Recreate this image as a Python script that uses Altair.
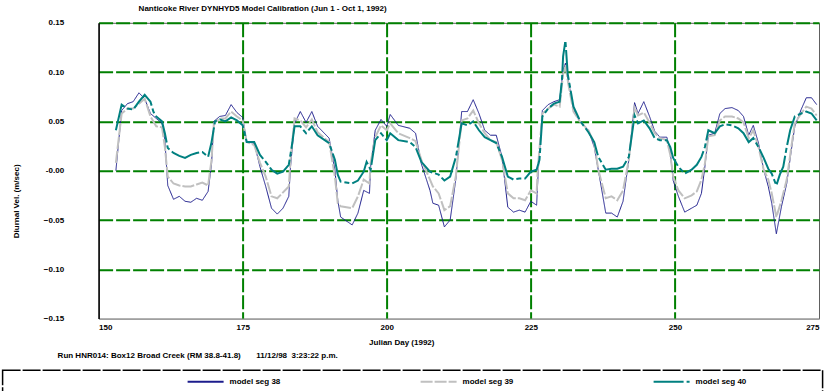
import altair as alt
import pandas as pd

TITLE = "Nanticoke River DYNHYD5 Model Calibration (Jun 1 - Oct 1, 1992)"
FOOTER = "Run HNR014: Box12 Broad Creek (RM 38.8-41.8)\u00a0\u00a0\u00a0\u00a0\u00a0\u00a0\u00a011/12/98\u00a0\u00a03:23:22 p.m."
SERIES = ["model seg 38", "model seg 39", "model seg 40"]
COLORS = ["#1c1c8c", "#c0c0c0", "#008080"]
Y_TICKS = [-0.15, -0.10, -0.05, 0.0, 0.05, 0.10, 0.15]
X_TICKS = [150, 175, 200, 225, 250, 275]

days38 = [153, 154, 155, 156, 157, 158, 159, 160, 161, 161.5, 162, 163, 164, 165, 166, 167, 168, 169, 169.6,
          170, 171, 172, 173, 174, 175, 175.7, 177, 178, 179, 180, 181, 182, 183, 183.3, 184, 185, 186, 187,
          188, 190, 191, 191.5, 192, 194, 195, 196, 197, 197.2, 198, 199, 200, 200.6, 202, 204, 205, 206,
          207.5, 208, 209, 210, 211, 212, 213, 214, 215, 216, 217, 218, 219, 220, 221, 222, 223, 224, 225,
          226, 226.3, 227, 228, 229, 230, 230.6, 231, 231.5, 232.4, 233.5, 235, 236, 236.7, 238, 239, 240,
          241, 242, 243, 243.6, 244.6, 245.6, 246.5, 247.4, 248.6, 249.2, 249.7, 250.6, 251.7, 252.9, 253.8,
          254.6, 255.2, 255.8, 256.9, 257.8, 258.7, 259.9, 261, 261.9, 262.8, 263.6, 264.5, 265.4, 266.2,
          266.8, 267.6, 268.5, 269.4, 270.2, 270.8, 271.9, 272.8, 273.7, 274.6]
vel38 = [0.000, 0.061, 0.068, 0.070, 0.079, 0.073, 0.058, 0.053, 0.048, 0.031, -0.015, -0.029, -0.026, -0.031,
         -0.032, -0.028, -0.030, -0.021, 0.007, 0.050, 0.055, 0.056, 0.067, 0.059, 0.054, 0.029, 0.028, 0.004,
         -0.016, -0.038, -0.044, -0.038, -0.026, 0.004, 0.048, 0.060, 0.049, 0.060, 0.045, 0.033, 0.001, -0.030,
         -0.047, -0.055, -0.043, -0.020, -0.023, 0.004, 0.041, 0.052, 0.045, 0.057, 0.046, 0.043, 0.038, 0.007,
         -0.020, -0.033, -0.035, -0.057, -0.050, -0.008, 0.060, 0.060, 0.072, 0.058, 0.041, 0.036, 0.036, 0.014,
         -0.037, -0.042, -0.040, -0.042, -0.031, -0.035, 0.001, 0.061, 0.067, 0.070, 0.072, 0.102, 0.109, 0.092,
         0.062, 0.050, 0.041, 0.024, 0.001, -0.043, -0.043, -0.047, -0.031, 0.011, 0.069, 0.058, 0.070, 0.055,
         0.040, 0.034, 0.034, 0.019, -0.010, -0.026, -0.042, -0.038, -0.035, -0.023, 0.004, 0.036, 0.038, 0.058,
         0.063, 0.064, 0.061, 0.055, 0.036, 0.046, 0.028, 0.001, -0.016, -0.033, -0.064, -0.036, -0.013, 0.021,
         0.045, 0.062, 0.074, 0.074, 0.067]

days39 = [153, 154, 155, 156, 157, 158, 159, 160, 161, 161.5, 162, 163, 164, 165, 166, 167, 168, 169, 169.6,
          170, 171, 172, 173, 174, 175, 175.7, 177, 178, 179, 180, 181, 183, 183.3, 184, 185, 186, 187, 188,
          190, 191, 191.5, 192, 194, 195, 196, 197, 197.2, 198, 199, 200, 200.6, 202, 204, 205, 206, 207.5,
          208, 209, 210, 211, 212, 213, 214, 215, 216, 217, 218, 219, 220, 221, 222, 223, 224, 225, 226,
          226.2, 227, 228, 229, 230, 230.6, 231, 231.5, 232.4, 233.5, 235, 236, 236.7, 238, 239, 240, 241,
          242, 243, 243.6, 244.6, 245.6, 246.5, 247.4, 248.6, 249.2, 249.7, 250.6, 251.7, 252.9, 253.8,
          254.6, 255.2, 255.8, 256.9, 257.8, 258.7, 259.9, 261, 261.9, 262.8, 263.6, 264.5, 265.4, 266.2,
          266.8, 267.6, 268.5, 269.4, 270.2, 270.8, 271.9, 272.8, 273.7, 274.6]
vel39 = [0.008, 0.058, 0.063, 0.063, 0.068, 0.073, 0.055, 0.045, 0.044, 0.024, -0.006, -0.013, -0.015, -0.016,
         -0.016, -0.014, -0.012, -0.015, 0.011, 0.048, 0.053, 0.053, 0.060, 0.055, 0.051, 0.029, 0.026, 0.008,
         -0.006, -0.026, -0.028, -0.016, 0.011, 0.053, 0.051, 0.044, 0.052, 0.039, 0.029, -0.006, -0.033, -0.036,
         -0.038, -0.026, -0.009, -0.013, 0.008, 0.034, 0.046, 0.041, 0.048, 0.038, 0.033, 0.030, 0.011, -0.009,
         -0.016, -0.023, -0.040, -0.036, -0.005, 0.051, 0.053, 0.061, 0.048, 0.038, 0.031, 0.029, 0.011, -0.023,
         -0.028, -0.028, -0.030, -0.020, -0.023, 0.001, 0.058, 0.063, 0.067, 0.065, 0.098, 0.107, 0.088, 0.060,
         0.050, 0.041, 0.028, 0.001, -0.028, -0.026, -0.030, -0.020, 0.011, 0.064, 0.056, 0.059, 0.049, 0.038,
         0.033, 0.031, 0.016, -0.006, -0.020, -0.028, -0.025, -0.021, -0.009, 0.007, 0.035, 0.036, 0.051, 0.055,
         0.055, 0.053, 0.049, 0.033, 0.041, 0.024, 0.001, -0.009, -0.023, -0.047, -0.030, -0.009, 0.024, 0.048,
         0.058, 0.065, 0.063, 0.056]

days40 = [153, 154, 155, 156, 157, 158, 159, 159.5, 160, 161, 161.5, 162, 163, 164, 165, 166, 167, 168, 169,
          169.6, 170.2, 171, 172, 173, 174, 175, 175.7, 177, 178, 179, 180, 181, 182, 183, 183.5, 184, 185,
          186, 187, 188, 190, 191, 191.5, 192, 194, 195, 196, 196.5, 197.2, 198, 199, 200, 200.6, 202, 204,
          205, 206, 207.5, 209, 210, 211, 212, 213, 214, 215, 216, 217, 218, 219, 220, 221, 222, 223, 224,
          225, 226, 226.5, 227, 228, 229, 230, 230.4, 230.6, 231, 231.4, 232.4, 233.5, 235, 236, 236.7, 238,
          239, 240, 241, 242, 243, 243.6, 244.6, 245.6, 246.5, 247.4, 248.6, 249.2, 249.7, 250.6, 251.7,
          252.9, 253.8, 254.6, 255.2, 255.8, 256.9, 257.8, 258.7, 259.9, 261, 261.9, 262.8, 263.6, 264.5,
          265.4, 266.2, 266.8, 267.6, 268.2, 268.8, 269.4, 270, 270.8, 271.9, 272.8, 273.7, 274.6]
vel40 = [0.041, 0.067, 0.063, 0.062, 0.070, 0.077, 0.070, 0.060, 0.055, 0.050, 0.038, 0.023, 0.018, 0.015,
         0.013, 0.016, 0.018, 0.019, 0.014, 0.029, 0.050, 0.052, 0.050, 0.054, 0.051, 0.046, 0.029, 0.029, 0.016,
         0.009, 0.001, -0.003, -0.001, 0.006, 0.024, 0.045, 0.045, 0.038, 0.045, 0.036, 0.028, 0.011, -0.004,
         -0.011, -0.013, -0.010, -0.001, 0.009, 0.001, 0.031, 0.038, 0.031, 0.038, 0.031, 0.029, 0.024, 0.009,
         -0.001, -0.004, -0.010, -0.006, 0.014, 0.048, 0.046, 0.050, 0.041, 0.034, 0.031, 0.028, 0.014, -0.006,
         -0.009, -0.008, -0.008, -0.001, 0.001, 0.011, 0.055, 0.063, 0.068, 0.070, 0.092, 0.116, 0.132, 0.098,
         0.065, 0.051, 0.039, 0.029, 0.014, 0.001, 0.002, 0.002, 0.004, 0.014, 0.056, 0.048, 0.051, 0.043, 0.033,
         0.031, 0.031, 0.024, 0.013, 0.004, -0.003, 0.001, 0.006, 0.014, 0.024, 0.041, 0.038, 0.045, 0.047, 0.046,
         0.043, 0.038, 0.029, 0.033, 0.024, 0.013, 0.002, -0.003, -0.015, -0.004, 0.004, 0.024, 0.041, 0.055,
         0.058, 0.060, 0.058, 0.051]

frames = []
for name, d, v in zip(SERIES, [days38, days39, days40], [vel38, vel39, vel40]):
    frames.append(pd.DataFrame({"day": d, "vel": v, "series": name}))
df = pd.concat(frames, ignore_index=True)

FONT = "Liberation Sans"
GREEN = "#008000"
TEXT = dict(labelFont=FONT, labelFontSize=8, labelFontWeight="bold", labelColor="black",
            titleFont=FONT, titleFontSize=8, titleFontWeight="bold", titleColor="black")

LEG = dict(orient="none", legendX=88, legendY=340, direction="horizontal", title=None, padding=0,
           symbolType="stroke", symbolSize=1296, symbolStrokeWidth=2, labelOffset=5,
           columnPadding=136, labelFont=FONT, labelFontSize=8, labelFontWeight="bold",
           labelColor="black")

lines = alt.Chart(df).mark_line(strokeJoin="miter").encode(
    x=alt.X("day:Q",
            scale=alt.Scale(domain=[150, 275], nice=False, zero=False),
            axis=alt.Axis(values=X_TICKS, format="d", title="Julian Day (1992)",
                          titleX=270, titleY=24, titleBaseline="middle", titleAnchor="start",
                          labelPadding=5, ticks=False, domain=True, domainColor="#a0a0a0",
                          grid=True, gridDash=[14, 3], gridWidth=2, gridOpacity=1,
                          gridColor=alt.condition("datum.value == 150 || datum.value == 275",
                                                  alt.value("transparent"), alt.value(GREEN)),
                          **TEXT)),
    y=alt.Y("vel:Q",
            scale=alt.Scale(domain=[-0.15, 0.15], nice=False, zero=False),
            axis=alt.Axis(values=Y_TICKS, title="Diurnal Vel. (m/sec)",
                          labelExpr="datum.value == 0 ? '-0.00' : format(datum.value, '.2f')",
                          titleAngle=270, titleX=-82, titleY=178, titleAlign="center",
                          titleBaseline="middle", labelPadding=35, ticks=False,
                          domainColor="#000000", domainWidth=1.5,
                          grid=True, gridDash=[14, 3], gridWidth=2, gridOpacity=1,
                          gridColor=alt.condition("datum.value < -0.14",
                                                  alt.value("transparent"), alt.value(GREEN)),
                          **TEXT)),
    color=alt.Color("series:N", scale=alt.Scale(domain=SERIES, range=COLORS), legend=alt.Legend(**LEG)),
    strokeDash=alt.StrokeDash("series:N",
                              scale=alt.Scale(domain=SERIES, range=[[1, 0], [12, 2], [30, 3, 5, 3]]),
                              legend=alt.Legend(**LEG)),
    strokeWidth=alt.condition(alt.datum.series == "model seg 38", alt.value(1), alt.value(2)),
    order=alt.Order("day:Q"),
)

footer = alt.Chart(pd.DataFrame({"t": [FOOTER]})).mark_text(
    align="left", baseline="middle", font=FONT, fontSize=8, fontWeight="bold", color="black"
).encode(text="t:N", x=alt.value(-41), y=alt.value(333))

box = alt.Chart(pd.DataFrame({"t": [1]})).mark_rect(
    filled=False, stroke="black", strokeWidth=1.5, strokeDash=[18, 2]
).encode(x=alt.value(-96), x2=alt.value(724), y=alt.value(347.5), y2=alt.value(385))

chart = alt.layer(box, lines, footer).properties(
    width=720.4, height=295.8,
    background="white",
    title=alt.TitleParams(TITLE, anchor="start", frame="group", dx=40, offset=6,
                          font=FONT, fontSize=8, fontWeight="bold"),
    autosize=alt.AutoSizeParams(type="none"),
    padding={"left": 98.6, "top": 22.8, "right": 6, "bottom": 72.4},
).configure_view(
    stroke="#606060", strokeWidth=1
)

chart.save("out.html", embed_options={"renderer": "svg", "actions": False})
